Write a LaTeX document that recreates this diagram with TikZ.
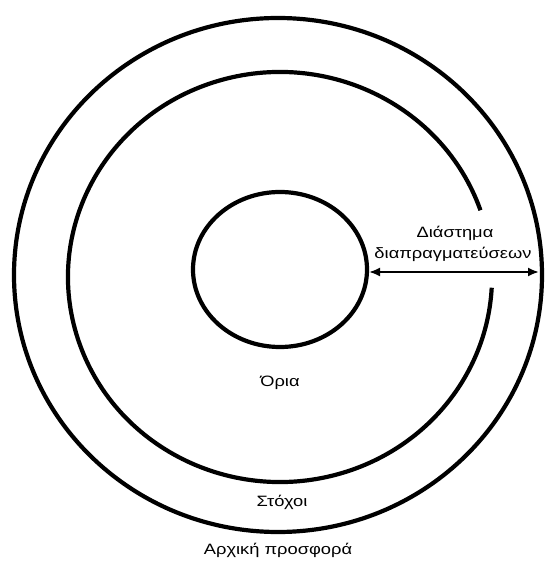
\documentclass[tikz,border=0pt]{standalone}
\usepackage{fontspec}
\setmainfont{Liberation Sans}[FakeStretch=1.22]
\usetikzlibrary{arrows.meta}
\tikzstyle{ring}=[line width = 4.2pt]
\tikzstyle{gaparrow}=[{Latex[length=11pt,width=9pt]}-{Latex[length=11pt,width=9pt]}, line width = 2pt]
\tikzstyle{ringtext}=[font=\fontsize{15}{17}\selectfont, inner sep=0pt]

\begin{document}
\begin{tikzpicture}[x=1pt,y=1pt]
				\useasboundingbox (0,0) rectangle (545,563);

				\coordinate (co) at (278,288);
				\coordinate (cm) at (280,286);
				\coordinate (ci) at (280,293.5);

				% initial offer, targets, limits
				\draw[ring] (co) ellipse [x radius=264, y radius=257];
				\draw[ring] (cm) ++(19:212 and 205) arc [start angle=19, end angle=357, x radius=212, y radius=205];
				\draw[ring] (ci) ellipse [x radius=87, y radius=77.5];

				\coordinate (gapl) at (369,291);
				\coordinate (gapr) at (539,291);
				\draw[gaparrow] (gapl) -- (gapr);

				\node[ringtext] (range) at (455,330) {Διάστημα};
				\node[ringtext] (talks) at (453,309) {διαπραγματεύσεων};
				\node[ringtext] (limits) at (280,180) {Όρια};
				\node[ringtext] (targets) at (282,61) {Στόχοι};
				\node[ringtext] (offer) at (278,13) {Αρχική προσφορά};
			\end{tikzpicture}
\end{document}
